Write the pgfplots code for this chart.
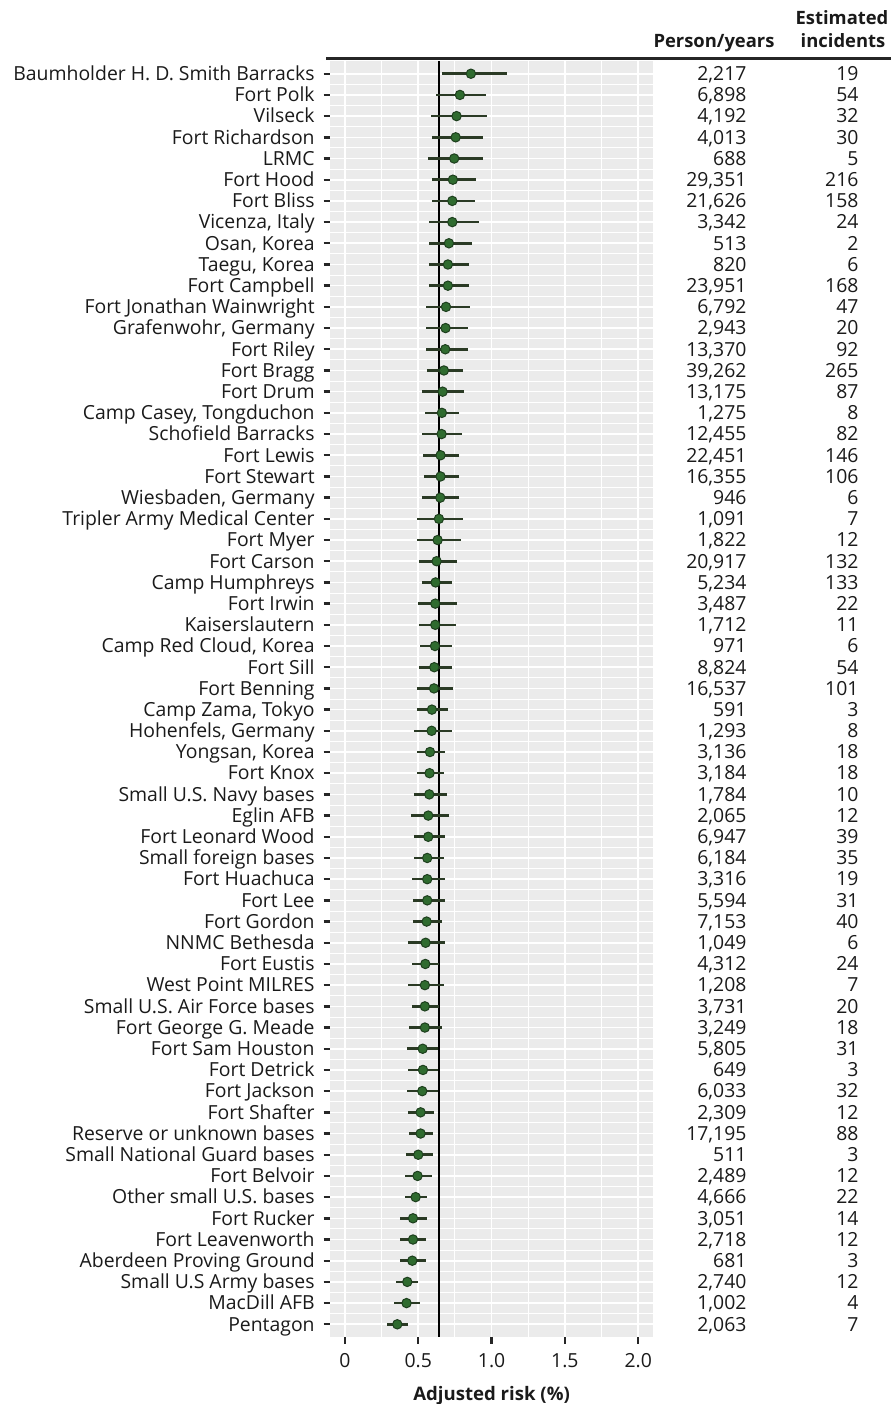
\documentclass[border=0pt]{standalone}
\usepackage{pgfplots}
\usepackage{pgfplotstable}
\pgfplotsset{compat=1.18}
\usepackage{fontspec}
\setmainfont{Open Sans}
\definecolor{panel}{HTML}{EBEBEB}
\definecolor{ptfill}{HTML}{2F6B2F}
\definecolor{ptdraw}{HTML}{1E3F1E}
\definecolor{ebar}{HTML}{2A3A24}
\definecolor{txt}{HTML}{1A1A1A}

\pgfplotstableread[col sep=semicolon]{
name;est;lo;hi;py;inc
Baumholder H. D. Smith Barracks;0.859;0.659;1.102;2,217;19
Fort Polk;0.784;0.620;0.959;6,898;54
Vilseck;0.761;0.586;0.970;4,192;32
Fort Richardson;0.755;0.591;0.943;4,013;30
LRMC;0.745;0.568;0.943;688;5
Fort Hood;0.736;0.593;0.893;29,351;216
Fort Bliss;0.732;0.595;0.889;21,626;158
Vicenza, Italy;0.732;0.573;0.916;3,342;24
Osan, Korea;0.709;0.570;0.864;513;2
Taegu, Korea;0.702;0.573;0.848;820;6
Fort Campbell;0.702;0.570;0.848;23,951;168
Fort Jonathan Wainwright;0.689;0.552;0.852;6,792;47
Grafenwohr, Germany;0.686;0.552;0.841;2,943;20
Fort Riley;0.684;0.550;0.841;13,370;92
Fort Bragg;0.675;0.557;0.807;39,262;265
Fort Drum;0.666;0.523;0.814;13,175;87
Camp Casey, Tongduchon;0.661;0.545;0.777;1,275;8
Schofield Barracks;0.659;0.527;0.795;12,455;82
Fort Lewis;0.652;0.532;0.777;22,451;146
Fort Stewart;0.652;0.536;0.777;16,355;106
Wiesbaden, Germany;0.650;0.527;0.780;946;6
Tripler Army Medical Center;0.641;0.491;0.802;1,091;7
Fort Myer;0.632;0.491;0.793;1,822;12
Fort Carson;0.625;0.505;0.764;20,917;132
Camp Humphreys;0.618;0.523;0.732;5,234;133
Fort Irwin;0.616;0.495;0.761;3,487;22
Kaiserslautern;0.616;0.507;0.755;1,712;11
Camp Red Cloud, Korea;0.614;0.509;0.732;971;6
Fort Sill;0.609;0.507;0.730;8,824;54
Fort Benning;0.607;0.491;0.734;16,537;101
Camp Zama, Tokyo;0.593;0.491;0.700;591;3
Hohenfels, Germany;0.591;0.468;0.727;1,293;8
Yongsan, Korea;0.580;0.491;0.682;3,136;18
Fort Knox;0.577;0.491;0.673;3,184;18
Small U.S. Navy bases;0.575;0.470;0.693;1,784;10
Eglin AFB;0.568;0.448;0.707;2,065;12
Fort Leonard Wood;0.568;0.468;0.682;6,947;39
Small foreign bases;0.561;0.470;0.673;6,184;35
Fort Huachuca;0.561;0.459;0.682;3,316;19
Fort Lee;0.561;0.464;0.682;5,594;31
Fort Gordon;0.557;0.464;0.661;7,153;40
NNMC Bethesda;0.550;0.432;0.682;1,049;6
Fort Eustis;0.548;0.459;0.639;4,312;24
West Point MILRES;0.545;0.427;0.677;1,208;7
Small U.S. Air Force bases;0.545;0.457;0.641;3,731;20
Fort George G. Meade;0.545;0.439;0.659;3,249;18
Fort Sam Houston;0.530;0.425;0.636;5,805;31
Fort Detrick;0.532;0.432;0.636;649;3
Fort Jackson;0.527;0.423;0.632;6,033;32
Fort Shafter;0.516;0.427;0.607;2,309;12
Reserve or unknown bases;0.516;0.434;0.602;17,195;88
Small National Guard bases;0.500;0.414;0.598;511;3
Fort Belvoir;0.495;0.409;0.595;2,489;12
Other small U.S. bases;0.482;0.407;0.561;4,666;22
Fort Rucker;0.464;0.373;0.561;3,051;14
Fort Leavenworth;0.464;0.377;0.555;2,718;12
Aberdeen Proving Ground;0.459;0.375;0.555;681;3
Small U.S Army bases;0.425;0.350;0.500;2,740;12
MacDill AFB;0.420;0.336;0.514;1,002;4
Pentagon;0.357;0.286;0.427;2,063;7
}\datatable

\begin{document}
\begin{tikzpicture}
\useasboundingbox (0,0) rectangle (445.5pt,702pt);
\begin{axis}[
  at={(165.15pt,33.5pt)}, anchor=south west,
  scale only axis, width=161.3pt, height=638pt,
  xmin=-0.1, xmax=2.1, ymin=-0.6, ymax=59.6, y dir=reverse,
  xtick={0,0.5,1,1.5,2}, xticklabels={0,0.5,1.0,1.5,2.0},
  minor x tick num=1,
  ytick={0,...,59}, yticklabels from table={\datatable}{name},
  minor y tick num=1,
  grid=both,
  major grid style={white, line width=0.8pt},
  minor grid style={white, line width=0.45pt},
  axis background/.style={fill=panel},
  axis line style={draw=none},
  tick align=outside, tick pos=left,
  major tick length=3.3pt, minor tick length=0pt,
  tick style={draw=black!85, line width=1.2pt},
  clip=false,
  font=\fontsize{9.7}{11}\selectfont,
  yticklabel style={anchor=base east, yshift=-3.4pt, xshift=-1pt, text=txt},
  xticklabel style={text=txt, yshift=-1.5pt},
  xlabel={\bfseries Adjusted risk (\%)},
  xlabel style={at={(axis description cs:0.5,0)}, anchor=base, yshift=-31.5pt, font=\fontsize{9.3}{11}\selectfont, text=txt},
]
\addplot[black, line width=1pt] coordinates {(0.64,-0.6) (0.64,59.6)};
\addplot[only marks, mark=none,
  error bars/.cd, x dir=both, x explicit, error mark=none,
  error bar style={draw=ebar, line width=1.3pt}]
  table[x=est, y expr=\coordindex,
        x error plus expr=\thisrow{hi}-\thisrow{est},
        x error minus expr=\thisrow{est}-\thisrow{lo}] {\datatable};
\addplot[only marks, mark=*, mark size=2.35pt,
  mark options={fill=ptfill, draw=ptdraw, line width=0.5pt}]
  table[x=est, y expr=\coordindex] {\datatable};
\addplot[only marks, mark=none, nodes near coords, point meta=explicit symbolic,
  nodes near coords align={anchor=base east},
  every node near coord/.append style={anchor=base east, yshift=-3.4pt, inner sep=0pt, text=txt, font=\fontsize{9.7}{11}\selectfont}]
  table[x expr=2.741, y expr=\coordindex, meta=py] {\datatable};
\addplot[only marks, mark=none, nodes near coords, point meta=explicit symbolic,
  nodes near coords align={anchor=base east},
  every node near coord/.append style={anchor=base east, yshift=-3.4pt, inner sep=0pt, text=txt, font=\fontsize{9.7}{11}\selectfont}]
  table[x expr=3.505, y expr=\coordindex, meta=inc] {\datatable};
\end{axis}
\draw[black!85, line width=1.5pt] (163pt,672.5pt) -- (445.5pt,672.5pt);
\node[anchor=base, inner sep=0pt, text=txt, font=\fontsize{9.2}{11}\bfseries] at (357pt,678pt) {Person/years};
\node[anchor=base, inner sep=0pt, text=txt, font=\fontsize{9.2}{11}\bfseries] at (421pt,689.5pt) {Estimated};
\node[anchor=base, inner sep=0pt, text=txt, font=\fontsize{9.2}{11}\bfseries] at (421.5pt,678pt) {incidents};
\end{tikzpicture}
\end{document}
